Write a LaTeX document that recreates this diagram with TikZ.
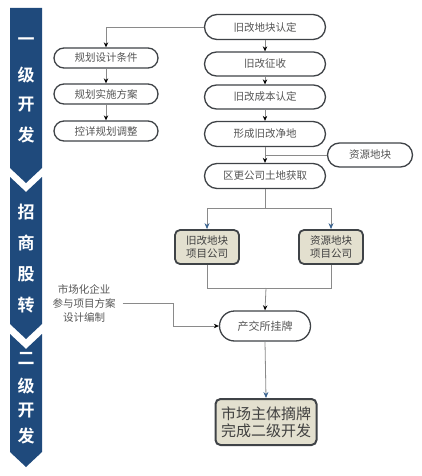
\documentclass[tikz,border=0pt]{standalone}
\usepackage{fontspec}
\setmainfont{Noto Sans CJK SC}
\newfontfamily\cjkbold{Noto Sans CJK SC Bold}
\usetikzlibrary{arrows.meta,positioning}
\definecolor{banner}{HTML}{1F4A7C}
\definecolor{pillborder}{HTML}{3F4347}
\definecolor{txtgray}{HTML}{555555}
\definecolor{linegray}{HTML}{8A8A8A}
\definecolor{beige}{HTML}{E3E0CF}
\definecolor{bluearr}{HTML}{3C6591}
\begin{document}
\begin{tikzpicture}[x=1pt,y=-1pt,
  pill/.style={draw=pillborder,line width=1.3pt,fill=white,rounded corners=#1,inner sep=0pt,
     text=txtgray,font=\fontsize{10.5}{12}\selectfont},
  projbox/.style={draw=pillborder,line width=1.8pt,fill=beige,rounded corners=5pt,inner sep=0pt,
     text=black!75,font=\fontsize{10.5}{13}\selectfont,align=center,minimum width=64pt,minimum height=34pt},
  conn/.style={draw=linegray,line width=0.8pt},
  arr/.style={conn,-{Stealth[length=5pt,width=4.5pt]},arrows={[color=black]}},
  barr/.style={conn,-{Stealth[length=6pt,width=5pt]},arrows={[color=bluearr]}},
  bantxt/.style={text=white,font=\cjkbold\fontsize{17}{17}\selectfont}
]
\useasboundingbox (0,0) rectangle (422,476);
% banners
\fill[banner] (10,8) -- (42,8) -- (42,168) -- (26,183) -- (10,168) -- cycle;
\fill[banner] (10,177) -- (26,192) -- (42,177) -- (42,324) -- (26,339) -- (10,324) -- cycle;
\fill[banner] (10,334) -- (26,349) -- (42,334) -- (42,452) -- (26,467) -- (10,452) -- cycle;
\node[bantxt] (t1) at (26,42) {一};
\node[bantxt] (t2) at (26,75) {级};
\node[bantxt] (t3) at (26,105) {开};
\node[bantxt] (t4) at (26,135) {发};
\node[bantxt] (t5) at (26,212) {招};
\node[bantxt] (t6) at (26,243) {商};
\node[bantxt] (t7) at (26,274) {股};
\node[bantxt] (t8) at (26,305) {转};
\node[bantxt] (t9) at (26,358) {二};
\node[bantxt] (t10) at (26,386) {级};
\node[bantxt] (t11) at (26,411) {开};
\node[bantxt] (t12) at (26,436) {发};
% right column
\node[pill=12.5pt,minimum width=121pt,minimum height=25pt] (a1) at (265,27) {旧改地块认定};
\node[pill=12pt,minimum width=121pt,minimum height=24pt] (a2) at (265,64) {旧改征收};
\node[pill=12pt,minimum width=121pt,minimum height=24pt] (a3) at (265,97) {旧改成本认定};
\node[pill=12.5pt,minimum width=121pt,minimum height=25pt] (a4) at (265,134) {形成旧改净地};
\node[pill=12.5pt,minimum width=121pt,minimum height=25pt] (a5) at (265,176) {区更公司土地获取};
\node[pill=12pt,minimum width=85pt,minimum height=24pt] (zy) at (370,155) {资源地块};
% left column
\node[pill=10pt,minimum width=104pt,minimum height=20pt] (l1) at (106,58) {规划设计条件};
\node[pill=10pt,minimum width=104pt,minimum height=20pt] (l2) at (106,94) {规划实施方案};
\node[pill=10pt,minimum width=104pt,minimum height=20pt] (l3) at (106,131) {控详规划调整};
% project companies
\node[projbox] (b1) at (207,247) {旧改地块\\项目公司};
\node[projbox] (b2) at (331,247) {资源地块\\项目公司};
% exchange
\node[pill=15pt,minimum width=91pt,minimum height=30pt,font=\fontsize{11}{12}\selectfont] (cj) at (265,326) {产交所挂牌};
\node[align=center,text=txtgray,font=\fontsize{10.5}{14}\selectfont,inner sep=1pt] (mk) at (84,303) {市场化企业\\参与项目方案\\设计编制};
\node[projbox,minimum width=101pt,minimum height=46pt,font=\fontsize{15}{17}\selectfont,line width=2pt] (fin) at (266,422) {市场主体摘牌\\完成二级开发};
% coordinates
\coordinate (fork) at (265,208);
\coordinate (merge) at (266,288);
\coordinate (bend) at (173,303);
% connectors
\draw[arr] (a1.west) -| (l1.north);
\draw[arr] (l1) -- (l2);
\draw[arr] (l2) -- (l3);
\draw[arr] (a1) -- (a2);
\draw[arr] (a2) -- (a3);
\draw[arr] (a3) -- (a4);
\draw[arr] (a4) -- (a5);
\draw[conn] (zy.west) -- (zy.west -| a4.south);
\draw[conn] (a5.south) -- (fork);
\draw[barr] (fork) -| (b1.north);
\draw[barr] (fork) -| (b2.north);
\draw[conn] (b1.south) |- (merge);
\draw[conn] (b2.south) |- (merge);
\draw[arr] (merge) -- (cj.north);
\draw[conn] (mk.east) ++(6,0) coordinate (mkst);
\draw[arr] (mkst) -- (bend) |- (cj.west);
\draw[barr] (cj.south) -- (fin.north);
\end{tikzpicture}
\end{document}
